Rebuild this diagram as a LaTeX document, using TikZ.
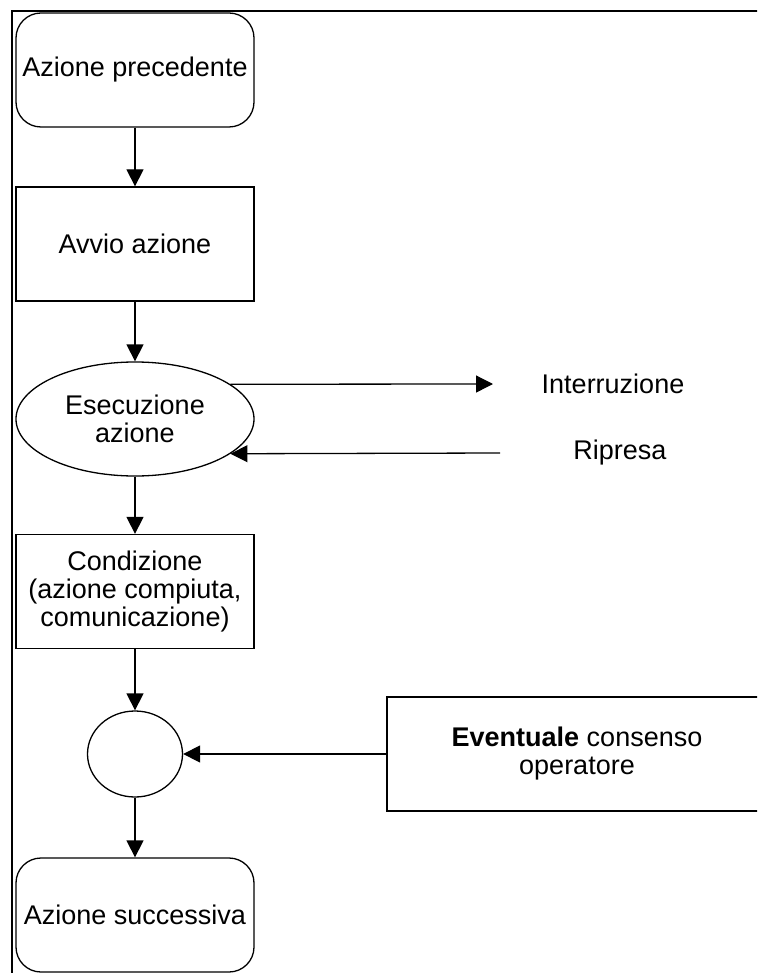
\documentclass[tikz,border=0pt]{standalone}
\usepackage{fontspec}
\setmainfont{Liberation Sans}
\usetikzlibrary{arrows.meta}
\usetikzlibrary{shapes.geometric}

\begin{document}
\begin{tikzpicture}[x=1pt,y=-1pt,line width=1.3pt,>/.tip={Triangle[length=17pt,width=17pt]},
	every node/.style={font=\fontsize{27pt}{28pt}\selectfont,inner sep=0pt,align=center},
	stepbox/.style={draw,minimum width=238pt,minimum height=114pt},
	roundbox/.style={stepbox,rounded corners=25pt},
	ovalbox/.style={draw,shape=ellipse,minimum width=238pt,minimum height=114pt}]
	\useasboundingbox (0,0) rectangle (757,973);
	\clip (0,0) rectangle (757,973);
	\draw[line width=2pt] (12,990) |- (770,11);

	\draw (135,70) node (prev) [roundbox] {Azione precedente};
	\draw (135,244) node (avvio) [stepbox] {Avvio azione};
	\draw (135,419) node (exec) [ovalbox] {Esecuzione\\azione};
	\draw (135,591.5) node (cond) [stepbox] {Condizione\\(azione compiuta,\\comunicazione)};
	\draw (135,754) node (join) [ovalbox,minimum width=95pt,minimum height=86pt] {};
	\draw (135,915) node (next) [roundbox] {Azione successiva};
	\draw (577,754) node (cons) [stepbox,minimum width=380pt] {\textbf{Eventuale} consenso\\operatore};

	% interruzione / ripresa
	\draw (613,384) node (intr) {Interruzione};
	\draw (620,453) node (rip) {Ripresa};
	\coordinate (intrtip) at (493,384);
	\coordinate (ripstart) at (500,453);

	\draw[->] (prev) edge (avvio);
	\draw[->] (avvio) edge (exec);
	\draw[->] (exec) edge (cond);
	\draw[->] (cond) edge (join);
	\draw[->] (join) edge (next);
	\draw[->] (cons) edge (join);
	\draw[->] (exec.20) -- (intrtip);
	\draw[->] (ripstart) -- (exec.-20);
\end{tikzpicture}
\end{document}
